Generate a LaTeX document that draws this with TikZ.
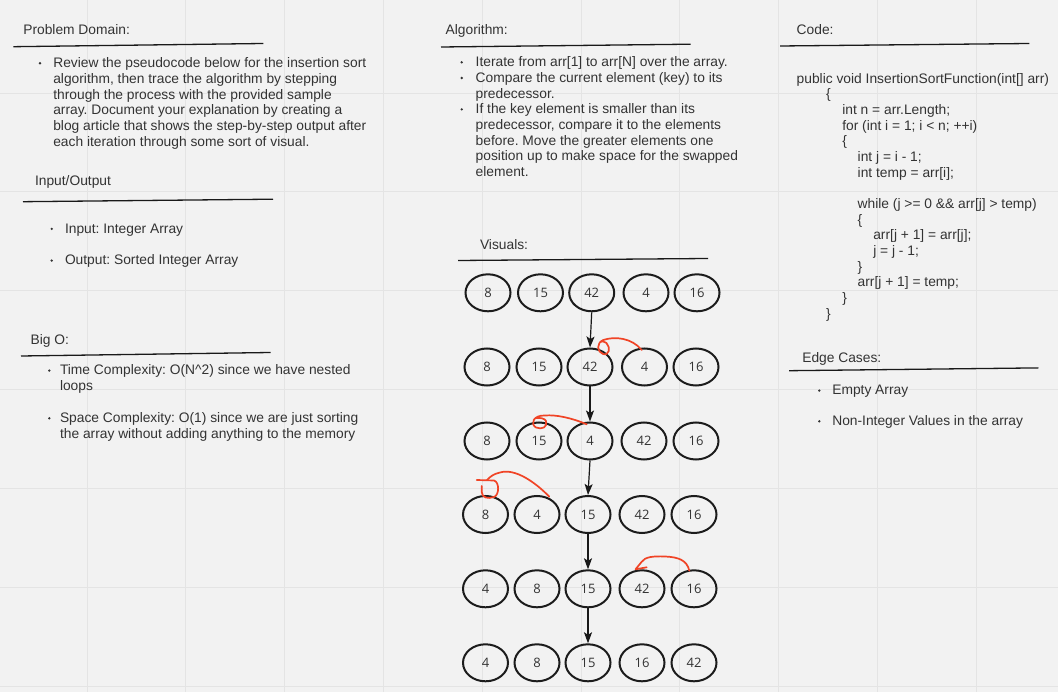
\documentclass[tikz,border=0pt]{standalone}
\usepackage{fontspec}
\setmainfont{Liberation Sans}
\newfontfamily\numfont{Open Sans}
\usetikzlibrary{arrows.meta,shapes.geometric}
\frenchspacing
\definecolor{bgcol}{RGB}{242,242,242}
\definecolor{gridcol}{RGB}{228,228,228}
\definecolor{textgray}{RGB}{51,51,51}
\definecolor{cellline}{RGB}{28,28,28}
\definecolor{penred}{RGB}{240,68,38}
\begin{document}
\begin{tikzpicture}[x=1pt,y=-1pt,
  txt/.style={anchor=base west, inner sep=0pt, outer sep=0pt, text=textgray,
              font=\fontsize{13.8}{15.65}\selectfont\frenchspacing},
  rule/.style={draw=black!90, line width=1.3pt},
  dot/.style={fill=textgray, draw=none},
  cell/.style={ellipse, draw=cellline, line width=2pt, minimum width=45pt,
               minimum height=37pt, inner sep=0pt, text=textgray,
               font=\numfont\fontsize{13}{13}\selectfont},
  arr/.style={draw=black!90, line width=1.2pt, -{Stealth[length=11pt,width=8pt,inset=2.5pt]}},
  pen/.style={draw=penred, line width=1.7pt, line cap=round, line join=round}]
\useasboundingbox (0,0) rectangle (1058,692);
\fill[bgcol] (0,0) rectangle (1058,692);
\foreach \gx in {87,185.8,284.6,383.4,482.2,581,679.8,778.6,877.4,976.2}
  \draw[gridcol, line width=1pt] (\gx,0) -- (\gx,692);
\foreach \gy in {93.2,192,290.8,389.6,488.4,587.2,686}
  \draw[gridcol, line width=1pt] (0,\gy) -- (1058,\gy);

% ---------- Problem Domain ----------
\node[txt] (pdt) at (23.3,35) {Problem Domain:};
\draw[rule] (13.3,46.7) -- (263.3,43.5);
\fill[dot] (40,63.3) circle (1.3);
\node[txt] (pd1) at (53.3,67.7) {Review the pseudocode below for the insertion sort};
\node[txt] (pd2) at (53.3,83.4) {algorithm, then trace the algorithm by stepping};
\node[txt] (pd3) at (53.3,99.1) {through the process with the provided sample};
\node[txt] (pd4) at (53.3,114.8) {array. Document your explanation by creating a};
\node[txt] (pd5) at (53.3,130.5) {blog article that shows the step-by-step output after};
\node[txt] (pd6) at (53.3,146.2) {each iteration through some sort of visual.};

% ---------- Input/Output ----------
\node[txt] (iot) at (35,186) {Input/Output};
\draw[rule] (23,201.7) -- (273,199.2);
\fill[dot] (51.7,228.9) circle (1.3);
\node[txt] (io1) at (65,233.3) {Input: Integer Array};
\fill[dot] (51.7,260.6) circle (1.3);
\node[txt] (io2) at (65,265) {Output: Sorted Integer Array};

% ---------- Big O ----------
\node[txt] (bot) at (30.7,344.3) {Big O:};
\draw[rule] (21,356) -- (270.7,352.5);
\fill[dot] (49.3,370.6) circle (1.3);
\node[txt] (bo1) at (60,375) {Time Complexity: O(N\textasciicircum 2) since we have nested};
\node[txt] (bo2) at (60,390.7) {loops};
\fill[dot] (49.3,418.3) circle (1.3);
\node[txt] (bo3) at (60,422.7) {Space Complexity: O(1) since we are just sorting};
\node[txt] (bo4) at (60,438.4) {the array without adding anything to the memory};

% ---------- Algorithm ----------
\node[txt] (alt) at (445.7,35) {Algorithm:};
\draw[rule] (441,47) -- (690.7,44.2);
\fill[dot] (461.7,62.3) circle (1.3);
\fill[dot] (461.7,78.0) circle (1.3);
\fill[dot] (461.7,109.4) circle (1.3);
\node[txt] (al1) at (475.7,66.7) {Iterate from arr[1] to arr[N] over the array.};
\node[txt] (al2) at (475.7,82.4) {Compare the current element (key) to its};
\node[txt] (al3) at (475.7,98.1) {predecessor.};
\node[txt] (al4) at (475.7,113.8) {If the key element is smaller than its};
\node[txt] (al5) at (475.7,129.5) {predecessor, compare it to the elements};
\node[txt] (al6) at (475.7,145.2) {before. Move the greater elements one};
\node[txt] (al7) at (475.7,160.9) {position up to make space for the swapped};
\node[txt] (al8) at (475.7,176.6) {element.};

% ---------- Visuals ----------
\node[txt] (vit) at (480,250) {Visuals:};
\draw[rule] (458,260.5) -- (708,258.5);

% ---------- Code ----------
\node[txt] (cot) at (796.7,35) {Code:};
\draw[rule] (780,46) -- (1029.3,43.5);
\node[txt] (c01) at (796.7,83.3) {public void InsertionSortFunction(int[] arr)};
\node[txt] (c02) at (826,99) {\{};
\node[txt] (c03) at (842.3,114.7) {int n = arr.Length;};
\node[txt] (c04) at (842.3,130.3) {for (int i = 1; i < n; ++i)};
\node[txt] (c05) at (842.3,146) {\{};
\node[txt] (c06) at (857.7,161.6) {int j = i - 1;};
\node[txt] (c07) at (857.7,177.3) {int temp = arr[i];};
\node[txt] (c08) at (857.7,208.6) {while (j >= 0 \&\& arr[j] > temp)};
\node[txt] (c09) at (857.7,224.3) {\{};
\node[txt] (c10) at (873.3,240) {arr[j + 1] = arr[j];};
\node[txt] (c11) at (873.3,255.6) {j = j - 1;};
\node[txt] (c12) at (857.7,271.3) {\}};
\node[txt] (c13) at (857.7,287) {arr[j + 1] = temp;};
\node[txt] (c14) at (842.3,302.6) {\}};
\node[txt] (c15) at (826,318.3) {\}};

% ---------- Edge Cases ----------
\node[txt] (ect) at (802.3,362.3) {Edge Cases:};
\draw[rule] (789,370.7) -- (1038.3,367.9);
\fill[dot] (819.3,390.6) circle (1.3);
\node[txt] (ec1) at (832.3,395) {Empty Array};
\fill[dot] (819.3,421.3) circle (1.3);
\node[txt] (ec2) at (832.3,425.7) {Non-Integer Values in the array};

% ---------- Cells ----------
\node[cell] (r1c1) at (488,292.8) {8};
\node[cell] (r1c2) at (540.5,292.8) {15};
\node[cell] (r1c3) at (591.7,292.8) {42};
\node[cell] (r1c4) at (646,292.8) {4};
\node[cell] (r1c5) at (697,292.8) {16};

\node[cell] (r2c1) at (487,367) {8};
\node[cell] (r2c2) at (539,367) {15};
\node[cell] (r2c3) at (590,367) {42};
\node[cell] (r2c4) at (644.5,367) {4};
\node[cell] (r2c5) at (696,367) {16};

\node[cell] (r3c1) at (487,441) {8};
\node[cell] (r3c2) at (539,441) {15};
\node[cell] (r3c3) at (590,441) {4};
\node[cell] (r3c4) at (644,441) {42};
\node[cell] (r3c5) at (696,441) {16};

\node[cell] (r4c1) at (485.5,514.5) {8};
\node[cell] (r4c2) at (537,514.5) {4};
\node[cell] (r4c3) at (588,514.5) {15};
\node[cell] (r4c4) at (642,514.5) {42};
\node[cell] (r4c5) at (694,514.5) {16};

\node[cell] (r5c1) at (485.5,588.8) {4};
\node[cell] (r5c2) at (537,588.8) {8};
\node[cell] (r5c3) at (588,588.8) {15};
\node[cell] (r5c4) at (642,588.8) {42};
\node[cell] (r5c5) at (694,588.8) {16};

\node[cell] (r6c1) at (485.5,662.8) {4};
\node[cell] (r6c2) at (537,662.8) {8};
\node[cell] (r6c3) at (588,662.8) {15};
\node[cell] (r6c4) at (642,662.8) {16};
\node[cell] (r6c5) at (694,662.8) {42};

% ---------- Black arrows ----------
\draw[arr] (r1c3.south) -- (r2c3.north);
\draw[arr] (r2c3.south) -- (r3c3.north);
\draw[arr] (r3c3.south) -- (r4c3.north);
\draw[arr] (r4c3.south) -- (r5c3.north);
\draw[arr] (r5c3.south) -- (r6c3.north);

% ---------- Red hand-drawn marks ----------
\draw[pen] (641.7,350) .. controls (632,338) and (615,336) .. (603.3,340)
  .. controls (596,343) and (597,352) .. (603,354)
  .. controls (609,356) and (611,348) .. (606.5,343)
  .. controls (604,341) and (601.5,341) .. (600.5,342);
\draw[pen] (586.7,424.3) .. controls (572,418) and (556,414.5) .. (545,415.5)
  .. controls (533,415) and (530,424) .. (536,427.5)
  .. controls (542,430) and (548,427) .. (546,421)
  .. controls (545,418.5) and (540,417.5) .. (536,418);
\draw[pen] (549.3,496.7) .. controls (535,482) and (515,468) .. (500,472.5)
  .. controls (493,474) and (490,477) .. (487,480);
\draw[pen] (476.7,480) -- (494,480.5) .. controls (499.5,482) and (499.5,495) .. (494,497)
  .. controls (488,499) and (482,498) .. (481.7,492) -- (481.7,486);
\draw[pen] (689.3,570.7) .. controls (687,560) and (678,557) .. (665,556.5)
  .. controls (652,556) and (645,557) .. (641.5,562) -- (635.5,569.3) -- (646.7,567.3);
\end{tikzpicture}
\end{document}
